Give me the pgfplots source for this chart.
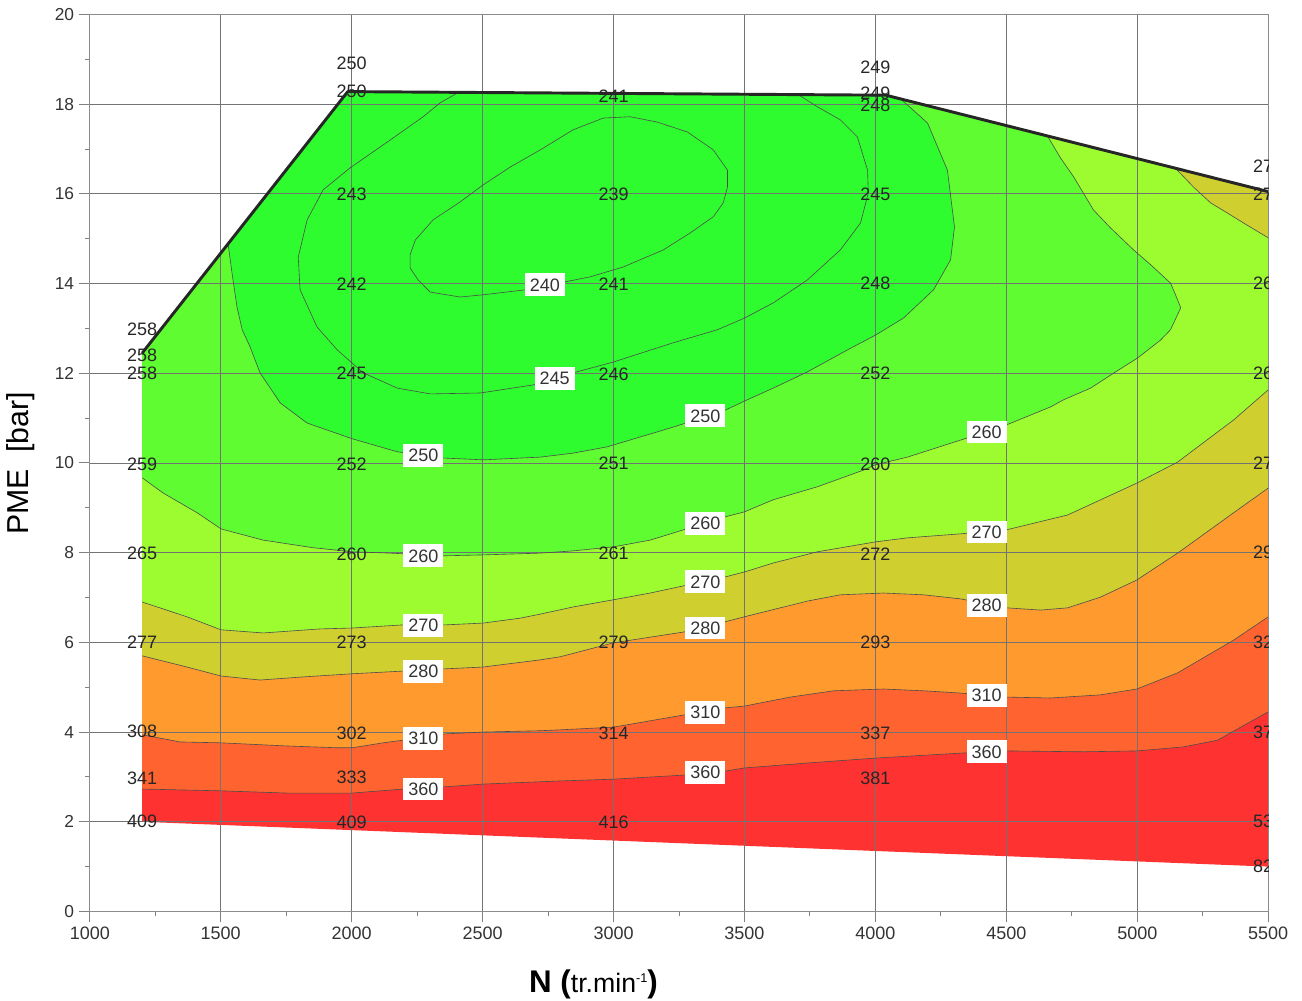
\documentclass[border=0pt]{standalone}
\usepackage{fontspec}
\setmainfont{Liberation Sans}
\usepackage{pgfplots}
\pgfplotsset{compat=1.18}
\definecolor{cRed}{HTML}{FF3232}
\definecolor{cOrRed}{HTML}{FF6330}
\definecolor{cOrange}{HTML}{FE9A2E}
\definecolor{cOlive}{HTML}{CFCF30}
\definecolor{cYGreen}{HTML}{9CFC30}
\definecolor{cMGreen}{HTML}{5EFC30}
\definecolor{cGreen}{HTML}{2EFC2E}
\tikzset{
  cl/.style={fill=white, inner xsep=3.75pt, inner ysep=3.8pt, font=\fontsize{13.5}{16}\selectfont, text=black!80},
  vl/.style={inner sep=0pt, font=\fontsize{13.5}{16}\selectfont, text=black!85},
  cline/.style={draw=black!70, line width=0.45pt}
}
\begin{document}
\begin{tikzpicture}
\begin{axis}[
  at={(0pt,0pt)}, anchor=south west,
  scale only axis, width=883.8pt, height=672.75pt,
  set layers,
  xmin=1000, xmax=5500, ymin=0, ymax=20,
  xtick={1000,1500,2000,2500,3000,3500,4000,4500,5000,5500},
  ytick={0,2,4,6,8,10,12,14,16,18,20},
  minor x tick num=1, minor y tick num=1,
  grid=major,
  major grid style={black!55, line width=0.6pt},
  tick align=outside,
  xtick pos=left, ytick pos=left,
  major tick length=8.25pt, minor tick length=3.75pt,
  tick style={gray, line width=0.75pt},
  axis line style={gray!90, line width=0.8pt},
  /pgf/number format/assume math mode=true,
  /pgf/number format/1000 sep={},
  scaled x ticks=false,
  xticklabel style={font=\fontsize{13.5}{16}\selectfont, text=black!80},
  yticklabel style={font=\fontsize{13}{16}\selectfont, text=black!80},
  xlabel={{\fontsize{23.5}{28}\selectfont\bfseries N (}{\fontsize{20}{24}\selectfont tr.min}\raisebox{7.5pt}{\fontsize{9.5}{11}\selectfont -1}{\fontsize{23.5}{28}\selectfont\bfseries )}},
  ylabel={\fontsize{22.7}{27}\selectfont PME\hspace{0.556em}[bar]},
  xlabel style={at={(axis description cs:0.4274,-0.0898)}, anchor=base},
  ylabel style={at={(axis description cs:-0.0584,0.4994)}, anchor=center},
]
% ---------- filled bands (painter's order) ----------
\addplot[on layer=axis background, fill=cRed, draw=none] coordinates {
 (1200,2.0) (5500,1.0) (5500,16.05) (4040,18.2) (1985,18.28) (1200,12.45)};
\addplot[on layer=axis background, fill=cOrRed, draw=none] coordinates {
 (1200,2.73) (1500,2.69) (1753,2.64) (2002,2.64) (2197,2.73) (2357,2.78) (2502,2.84) (2797,2.91) (3000,2.95) (3267,3.04) (3427,3.13) (3500,3.20) (3740,3.31) (4000,3.42) (4325,3.53) (4500,3.58) (4795,3.56) (5000,3.58) (5177,3.67) (5307,3.82) (5395,4.11) (5500,4.45)
 (5500,16.05) (4040,18.2) (1985,18.28) (1200,12.45)};
\addplot[on layer=axis background, fill=cOrange, draw=none] coordinates {
 (1200,3.94) (1345,3.78) (1501,3.76) (1753,3.69) (1945,3.65) (2002,3.65) (2120,3.76) (2197,3.82) (2357,3.96) (2502,4.00) (2720,4.03) (2797,4.05) (3000,4.11) (3267,4.38) (3427,4.54) (3500,4.58) (3675,4.78) (3840,4.92) (4031,4.96) (4184,4.92) (4325,4.87) (4501,4.78) (4669,4.76) (4860,4.83) (4998,4.96) (5154,5.32) (5368,6.05) (5500,6.57)
 (5500,16.05) (4040,18.2) (1985,18.28) (1200,12.45)};
\addplot[on layer=axis background, fill=cOlive, draw=none] coordinates {
 (1200,5.70) (1371,5.45) (1501,5.25) (1650,5.16) (1815,5.23) (2002,5.30) (2197,5.36) (2357,5.41) (2502,5.45) (2720,5.61) (2797,5.68) (3000,5.99) (3267,6.23) (3427,6.46) (3500,6.57) (3740,6.92) (3866,7.06) (4031,7.10) (4184,7.06) (4325,6.97) (4501,6.77) (4631,6.72) (4734,6.77) (4860,7.01) (4998,7.39) (5154,7.99) (5368,8.89) (5500,9.44)
 (5500,16.05) (4040,18.2) (1985,18.28) (1200,12.45)};
\addplot[on layer=axis background, fill=cYGreen, draw=none] coordinates {
 (1200,6.90) (1371,6.57) (1501,6.28) (1662,6.21) (1880,6.30) (2002,6.32) (2197,6.39) (2357,6.39) (2502,6.43) (2644,6.54) (2720,6.63) (2846,6.79) (3000,6.95) (3140,7.10) (3267,7.26) (3427,7.46) (3500,7.57) (3610,7.77) (3779,8.02) (4000,8.24) (4122,8.33) (4325,8.42) (4501,8.51) (4734,8.84) (4998,9.55) (5154,10.02) (5368,10.96) (5500,11.63)
 (5500,16.05) (4040,18.2) (1985,18.28) (1200,12.45)};
\addplot[on layer=axis background, fill=cMGreen, draw=none] coordinates {
 (1200,9.67) (1280,9.33) (1410,8.89) (1501,8.53) (1662,8.28) (1853,8.11) (2002,8.02) (2147,7.99) (2350,7.93) (2502,7.95) (2720,7.99) (2846,8.04) (3000,8.13) (3140,8.28) (3267,8.51) (3427,8.80) (3500,8.91) (3610,9.18) (3779,9.47) (3954,9.84) (4000,9.96) (4122,10.13) (4325,10.51) (4501,10.85) (4669,11.25) (4719,11.41) (4822,11.67) (4917,12.03) (5001,12.34) (5089,12.74) (5127,12.97) (5166,13.46) (5146,13.75) (5127,14.01) (5051,14.42) (4986,14.75) (4898,15.24) (4833,15.64) (4757,16.38) (4707,16.80) (4657,17.29)
 (4040,18.2) (1985,18.28) (1200,12.45)};
\addplot[on layer=axis background, fill=cGreen, draw=none] coordinates {
 (1528,14.89) (1543,14.24) (1562,13.48) (1582,12.97) (1612,12.59) (1650,12.01) (1727,11.34) (1830,10.89) (2002,10.54) (2174,10.25) (2350,10.11) (2502,10.07) (2720,10.13) (2846,10.22) (2976,10.36) (3102,10.58) (3228,10.80) (3427,11.18) (3500,11.38) (3610,11.67) (3740,12.03) (3893,12.52) (4000,12.85) (4107,13.23) (4222,13.86) (4287,14.53) (4302,15.26) (4275,16.53) (4199,17.58) (4096,18.12)
 (4040,18.2) (1985,18.28)};
\addplot[on layer=axis background, fill=cOlive, draw=none] coordinates {
 (5146,16.57) (5215,16.15) (5280,15.80) (5345,15.57) (5406,15.35) (5500,15.02) (5500,16.05)};
% ---------- contour lines ----------
\addplot[cline] coordinates {(1200,2.73) (1500,2.69) (1753,2.64) (2002,2.64) (2197,2.73) (2357,2.78) (2502,2.84) (2797,2.91) (3000,2.95) (3267,3.04) (3427,3.13) (3500,3.20) (3740,3.31) (4000,3.42) (4325,3.53) (4500,3.58) (4795,3.56) (5000,3.58) (5177,3.67) (5307,3.82) (5395,4.11) (5500,4.45)};
\addplot[cline] coordinates {(1200,3.94) (1345,3.78) (1501,3.76) (1753,3.69) (1945,3.65) (2002,3.65) (2120,3.76) (2197,3.82) (2357,3.96) (2502,4.00) (2720,4.03) (2797,4.05) (3000,4.11) (3267,4.38) (3427,4.54) (3500,4.58) (3675,4.78) (3840,4.92) (4031,4.96) (4184,4.92) (4325,4.87) (4501,4.78) (4669,4.76) (4860,4.83) (4998,4.96) (5154,5.32) (5368,6.05) (5500,6.57)};
\addplot[cline] coordinates {(1200,5.70) (1371,5.45) (1501,5.25) (1650,5.16) (1815,5.23) (2002,5.30) (2197,5.36) (2357,5.41) (2502,5.45) (2720,5.61) (2797,5.68) (3000,5.99) (3267,6.23) (3427,6.46) (3500,6.57) (3740,6.92) (3866,7.06) (4031,7.10) (4184,7.06) (4325,6.97) (4501,6.77) (4631,6.72) (4734,6.77) (4860,7.01) (4998,7.39) (5154,7.99) (5368,8.89) (5500,9.44)};
\addplot[cline] coordinates {(1200,6.90) (1371,6.57) (1501,6.28) (1662,6.21) (1880,6.30) (2002,6.32) (2197,6.39) (2357,6.39) (2502,6.43) (2644,6.54) (2720,6.63) (2846,6.79) (3000,6.95) (3140,7.10) (3267,7.26) (3427,7.46) (3500,7.57) (3610,7.77) (3779,8.02) (4000,8.24) (4122,8.33) (4325,8.42) (4501,8.51) (4734,8.84) (4998,9.55) (5154,10.02) (5368,10.96) (5500,11.63)};
\addplot[cline] coordinates {(5146,16.57) (5215,16.15) (5280,15.80) (5345,15.57) (5406,15.35) (5500,15.02)};
\addplot[cline] coordinates {(1200,9.67) (1280,9.33) (1410,8.89) (1501,8.53) (1662,8.28) (1853,8.11) (2002,8.02) (2147,7.99) (2350,7.93) (2502,7.95) (2720,7.99) (2846,8.04) (3000,8.13) (3140,8.28) (3267,8.51) (3427,8.80) (3500,8.91) (3610,9.18) (3779,9.47) (3954,9.84) (4000,9.96) (4122,10.13) (4325,10.51) (4501,10.85) (4669,11.25) (4719,11.41) (4822,11.67) (4917,12.03) (5001,12.34) (5089,12.74) (5127,12.97) (5166,13.46) (5146,13.75) (5127,14.01) (5051,14.42) (4986,14.75) (4898,15.24) (4833,15.64) (4757,16.38) (4707,16.80) (4657,17.29)};
\addplot[cline] coordinates {(1528,14.89) (1543,14.24) (1562,13.48) (1582,12.97) (1612,12.59) (1650,12.01) (1727,11.34) (1830,10.89) (2002,10.54) (2174,10.25) (2350,10.11) (2502,10.07) (2720,10.13) (2846,10.22) (2976,10.36) (3102,10.58) (3228,10.80) (3427,11.18) (3500,11.38) (3610,11.67) (3740,12.03) (3893,12.52) (4000,12.85) (4107,13.23) (4222,13.86) (4287,14.53) (4302,15.26) (4275,16.53) (4199,17.58) (4096,18.12)};
\addplot[cline] coordinates {(2407,18.26) (2338,18.03) (2273,17.72) (2147,17.20) (1994,16.58) (1891,16.09) (1830,15.42) (1796,14.59) (1803,13.86) (1868,13.03) (1945,12.52) (2044,12.01) (2174,11.67) (2300,11.54) (2491,11.56) (2693,11.74) (2846,12.01) (2999,12.25) (3228,12.68) (3396,12.97) (3500,13.23) (3610,13.57) (3740,14.08) (3866,14.75) (3943,15.35) (3973,16.02) (3970,16.53) (3931,17.27) (3866,17.65) (3779,17.94) (3706,18.21)};
\addplot[cline] coordinates {(2223,14.64) (2243,14.97) (2311,15.42) (2414,15.82) (2502,16.20) (2606,16.60) (2720,16.98) (2846,17.43) (2961,17.69) (3064,17.72) (3167,17.60) (3282,17.38) (3381,16.98) (3435,16.53) (3435,16.15) (3419,15.80) (3381,15.49) (3293,15.13) (3190,14.75) (3037,14.37) (2911,14.15) (2816,14.04) (2663,13.86) (2502,13.75) (2414,13.70) (2300,13.81) (2254,14.08) (2223,14.35) (2223,14.64)};
% ---------- domain top boundary ----------
\addplot[draw=black!85, line width=2.2pt, line join=round] coordinates {(1200,12.45) (1985,18.28) (4040,18.2) (5500,16.05)};
% ---------- value labels ----------
\node[vl] at (axis cs:1200,12.98) {258};
\node[vl] at (axis cs:1200,12.39) {258};
\node[vl] at (axis cs:1200,12.00) {258};
\node[vl] at (axis cs:1200,9.98) {259};
\node[vl] at (axis cs:1200,7.99) {265};
\node[vl] at (axis cs:1200,6.00) {277};
\node[vl] at (axis cs:1200,4.01) {308};
\node[vl] at (axis cs:1200,2.98) {341};
\node[vl] at (axis cs:1200,2.01) {409};
\node[vl] at (axis cs:2000,18.90) {250};
\node[vl] at (axis cs:2000,18.28) {250};
\node[vl] at (axis cs:2000,15.98) {243};
\node[vl] at (axis cs:2000,13.98) {242};
\node[vl] at (axis cs:2000,12.00) {245};
\node[vl] at (axis cs:2000,9.97) {252};
\node[vl] at (axis cs:2000,7.97) {260};
\node[vl] at (axis cs:2000,6.00) {273};
\node[vl] at (axis cs:2000,3.98) {302};
\node[vl] at (axis cs:2000,3.00) {333};
\node[vl] at (axis cs:2000,1.99) {409};
\node[vl] at (axis cs:3000,18.17) {241};
\node[vl] at (axis cs:3000,15.98) {239};
\node[vl] at (axis cs:3000,13.98) {241};
\node[vl] at (axis cs:3000,11.98) {246};
\node[vl] at (axis cs:3000,10.00) {251};
\node[vl] at (axis cs:3000,7.99) {261};
\node[vl] at (axis cs:3000,6.00) {279};
\node[vl] at (axis cs:3000,3.97) {314};
\node[vl] at (axis cs:3000,1.99) {416};
\node[vl] at (axis cs:4000,18.82) {249};
\node[vl] at (axis cs:4000,18.24) {249};
\node[vl] at (axis cs:4000,17.98) {248};
\node[vl] at (axis cs:4000,15.98) {245};
\node[vl] at (axis cs:4000,14.00) {248};
\node[vl] at (axis cs:4000,12.00) {252};
\node[vl] at (axis cs:4000,9.98) {260};
\node[vl] at (axis cs:4000,7.97) {272};
\node[vl] at (axis cs:4000,6.00) {293};
\node[vl] at (axis cs:4000,3.97) {337};
\node[vl] at (axis cs:4000,2.97) {381};
\node[vl] at (axis cs:5500,16.62) {275};
\node[vl] at (axis cs:5500,16.00) {275};
\node[vl] at (axis cs:5500,14.00) {265};
\node[vl] at (axis cs:5500,12.00) {265};
\node[vl] at (axis cs:5500,10.00) {275};
\node[vl] at (axis cs:5500,8.00) {295};
\node[vl] at (axis cs:5500,6.00) {325};
\node[vl] at (axis cs:5500,4.00) {375};
\node[vl] at (axis cs:5500,2.00) {535};
\node[vl] at (axis cs:5500,1.01) {825};
% ---------- contour labels ----------
\node[cl] at (axis cs:2738,13.97) {240};
\node[cl] at (axis cs:2775,11.89) {245};
\node[cl] at (axis cs:3351,11.05) {250};
\node[cl] at (axis cs:2274,10.16) {250};
\node[cl] at (axis cs:4425,10.69) {260};
\node[cl] at (axis cs:3351,8.66) {260};
\node[cl] at (axis cs:2274,7.93) {260};
\node[cl] at (axis cs:4425,8.46) {270};
\node[cl] at (axis cs:3351,7.35) {270};
\node[cl] at (axis cs:2274,6.37) {270};
\node[cl] at (axis cs:4425,6.82) {280};
\node[cl] at (axis cs:3351,6.32) {280};
\node[cl] at (axis cs:2274,5.36) {280};
\node[cl] at (axis cs:4425,4.81) {310};
\node[cl] at (axis cs:3351,4.43) {310};
\node[cl] at (axis cs:2274,3.86) {310};
\node[cl] at (axis cs:4425,3.56) {360};
\node[cl] at (axis cs:3351,3.10) {360};
\node[cl] at (axis cs:2274,2.73) {360};
\end{axis}
\pgfresetboundingbox
\path[use as bounding box] (-67.35pt,-67.1pt) rectangle (909.15pt,683.6pt);
\end{tikzpicture}
\end{document}
